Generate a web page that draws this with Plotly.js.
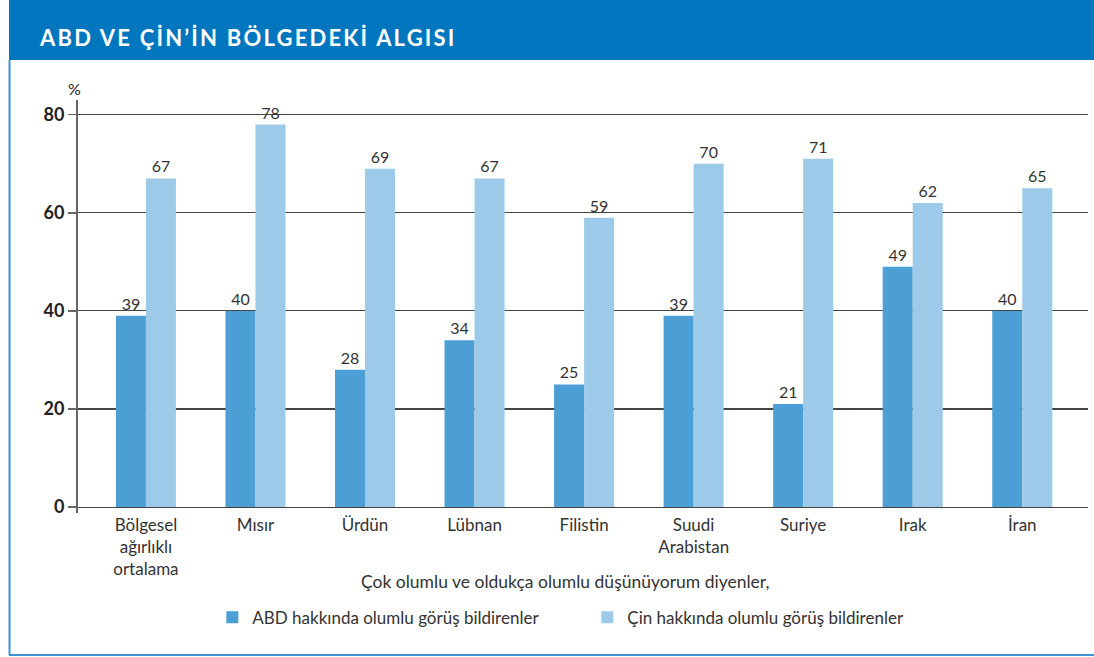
<!DOCTYPE html>
<html>
<head>
<meta charset="utf-8">
<script src="https://cdn.plot.ly/plotly-3.0.1.min.js"></script>
<style>
html,body{margin:0;padding:0;background:#fff;}
#chart{width:1094px;height:657px;}
#chart g.annotation[data-index="0"] text.annotation-text{letter-spacing:2.2px;}
</style>
</head>
<body>
<div id="chart"></div>
<script>
const categories = ["Bölgesel<br>ağırlıklı<br>ortalama", "Mısır", "Ürdün", "Lübnan", "Filistin", "Suudi<br>Arabistan", "Suriye", "Irak", "İran"];
const abdValues = [39, 40, 28, 34, 25, 39, 21, 49, 40];
const cinValues = [67, 78, 69, 67, 59, 70, 71, 62, 65];
const seriesNames = ["ABD hakkında olumlu görüş bildirenler", "Çin hakkında olumlu görüş bildirenler"];
const yTicks = [0, 20, 40, 60, 80];
const chartTitle = "ABD VE ÇİN’İN BÖLGEDEKİ ALGISI";
const legendHeading = "Çok olumlu ve oldukça olumlu düşünüyorum diyenler,";

const FONT = "Lato, 'Open Sans', sans-serif";

const traces = [
  {
    type: "bar", name: seriesNames[0], x: categories, y: abdValues,
    marker: {color: "#4b9fd5"},
    text: abdValues.map(String), textposition: "outside", cliponaxis: false,
    textfont: {family: FONT, size: 16, color: "#333"}
  },
  {
    type: "bar", name: seriesNames[1], x: categories, y: cinValues,
    marker: {color: "#9dcae8"},
    text: cinValues.map(String), textposition: "outside", cliponaxis: false,
    textfont: {family: FONT, size: 16, color: "#333"}
  }
];

const layout = {
  width: 1094, height: 657,
  margin: {l: 78, r: 6, t: 100, b: 144},
  paper_bgcolor: "#fff", plot_bgcolor: "#fff",
  font: {family: FONT, size: 17, color: "#333"},
  barmode: "group", bargap: 0.452, bargroupgap: 0,
  showlegend: true,
  legend: {
    orientation: "h", x: 0.133, xanchor: "left", y: -0.21, yanchor: "top",
    font: {family: FONT, size: 17, color: "#333"},
    entrywidth: 330, traceorder: "normal", itemclick: false
  },
  xaxis: {
    type: "category", range: [-0.62, 8.6],
    showline: false, showgrid: false, zeroline: false,
    ticks: "", tickfont: {family: FONT, size: 17, color: "#333"},
    fixedrange: true
  },
  yaxis: {
    range: [-1.2, 83], tickvals: yTicks, ticktext: yTicks.map(String),
    showline: true, linecolor: "#666", linewidth: 2,
    showgrid: true, gridcolor: "#444", gridwidth: 1.1,
    zeroline: false,
    ticks: "outside", ticklen: 8, tickwidth: 1.5, tickcolor: "#666",
    tickfont: {family: FONT, size: 18, color: "#222", weight: "bold"},
    fixedrange: true
  },
  shapes: [
    {type: "rect", xref: "paper", yref: "paper", x0: -0.0683, x1: 1.01, y0: 1.0969, y1: 1.26,
     fillcolor: "#0076be", line: {width: 0}, layer: "above"},
    {type: "line", xref: "paper", yref: "paper", x0: -0.0678, x1: -0.0678, y0: 1.0969, y1: -0.3438,
     line: {color: "#3d93d2", width: 2}},
    {type: "line", xref: "paper", yref: "paper", x0: -0.0683, x1: 1.01, y0: -0.3438, y1: -0.3438,
     line: {color: "#3d93d2", width: 2}}
  ],
  annotations: [
    {text: chartTitle, xref: "paper", yref: "paper", x: -0.008, y: 1.1525, xanchor: "left", yanchor: "middle",
     showarrow: false, font: {family: FONT, size: 22, color: "#fff", weight: "bold"}},
    {text: "%", xref: "paper", yref: "paper", x: -0.003, y: 1.029, xanchor: "center", yanchor: "middle",
     showarrow: false, font: {family: FONT, size: 16, color: "#222"}},
    {text: legendHeading, xref: "paper", yref: "paper", x: 0.482, y: -0.167, xanchor: "center", yanchor: "middle",
     showarrow: false, font: {family: FONT, size: 17.5, color: "#333"}}
  ]
};

Plotly.newPlot("chart", traces, layout, {displayModeBar: false, staticPlot: true});
</script>
</body>
</html>
